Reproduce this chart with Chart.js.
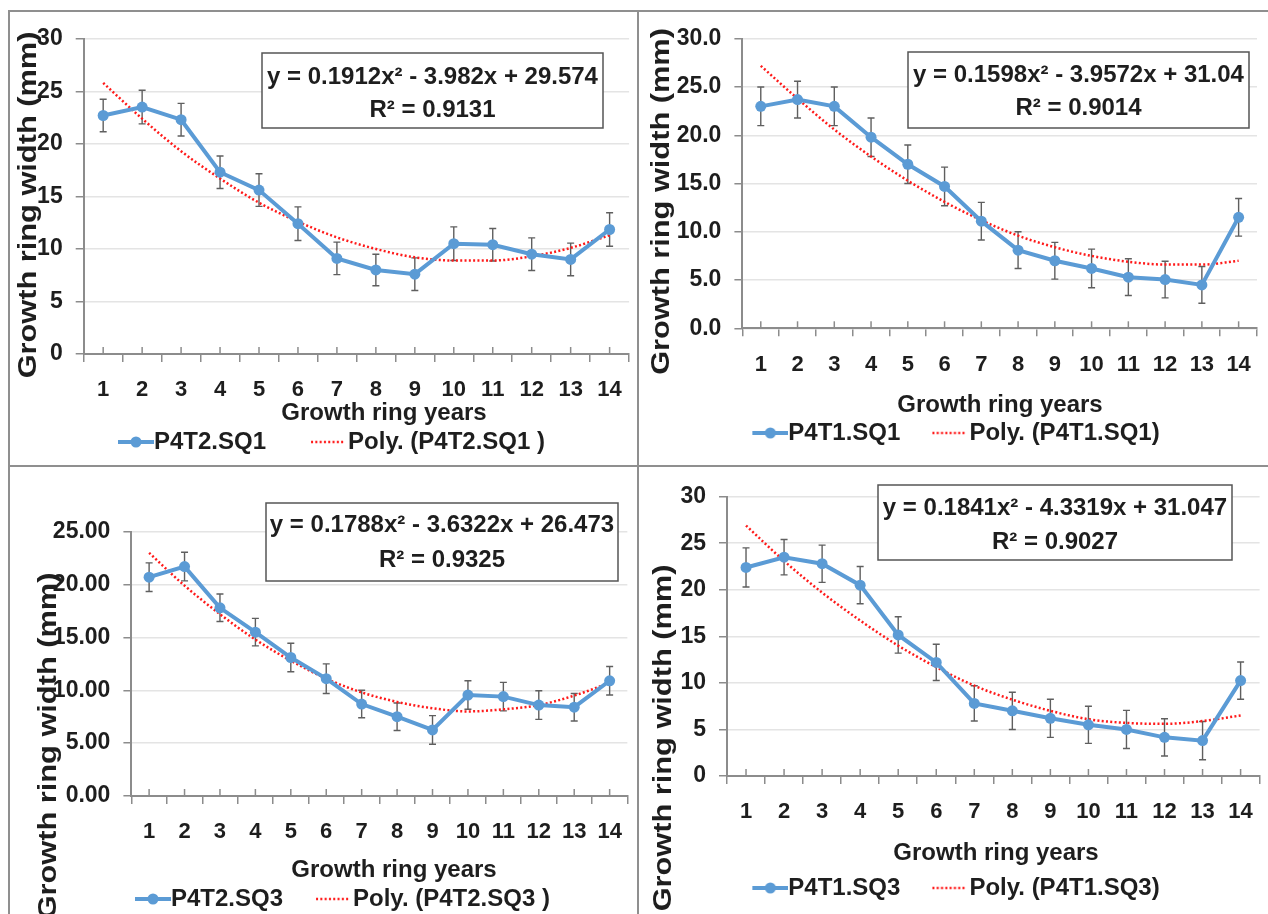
<!DOCTYPE html>
<html>
<head>
<meta charset="utf-8">
<script src="https://cdn.jsdelivr.net/npm/chart.js@4.4.1/dist/chart.umd.min.js"></script>
<style>
body { margin: 0; background: #fff; width: 1268px; height: 914px; overflow: hidden; position: relative; }
canvas { position: absolute; }
.ln { position: absolute; background: #8f8f8f; }
</style>
</head>
<body>
<canvas id="c1" width="627" height="460" style="left:10px;top:12px"></canvas>
<canvas id="c2" width="628" height="460" style="left:640px;top:12px"></canvas>
<canvas id="c3" width="627" height="460" style="left:10px;top:468px"></canvas>
<canvas id="c4" width="628" height="460" style="left:640px;top:468px"></canvas>
<div class="ln" style="left:8px;top:10px;width:1260px;height:2px"></div>
<div class="ln" style="left:8px;top:10px;width:2px;height:904px"></div>
<div class="ln" style="left:637px;top:10px;width:2px;height:904px"></div>
<div class="ln" style="left:8px;top:465px;width:1260px;height:2px"></div>
<script>
var years = ['1', '2', '3', '4', '5', '6', '7', '8', '9', '10', '11', '12', '13', '14']

// P4T2.SQ1
var p4t2sq1 = [22.7, 23.5, 22.3, 17.3, 15.6, 12.4, 9.1, 8.0, 7.6, 10.5, 10.4, 9.5, 9.0, 11.85]
var p4t2sq1Err = [1.55, 1.6, 1.55, 1.55, 1.55, 1.6, 1.55, 1.5, 1.55, 1.6, 1.55, 1.55, 1.55, 1.6]
var p4t2sq1Poly = [25.8, 22.4, 19.3, 16.7, 14.4, 12.6, 11.1, 10.0, 9.2, 8.9, 8.9, 9.3, 10.1, 11.3]

// P4T1.SQ1
var p4t1sq1 = [23.0, 23.7, 23.0, 19.8, 17.0, 14.7, 11.1, 8.1, 7.0, 6.2, 5.3, 5.05, 4.5, 11.5]
var p4t1sq1Err = [2.0, 1.9, 2.0, 2.0, 2.0, 2.0, 1.95, 1.9, 1.9, 2.0, 1.9, 1.9, 1.9, 1.95]
var p4t1sq1Poly = [27.2, 23.8, 20.6, 17.8, 15.3, 13.1, 11.2, 9.6, 8.4, 7.5, 6.9, 6.6, 6.6, 7.0]

// P4T2.SQ3
var p4t2sq3 = [20.7, 21.7, 17.8, 15.5, 13.1, 11.1, 8.7, 7.5, 6.25, 9.55, 9.4, 8.6, 8.4, 10.9]
var p4t2sq3Err = [1.35, 1.35, 1.3, 1.3, 1.35, 1.4, 1.3, 1.3, 1.35, 1.35, 1.35, 1.35, 1.3, 1.35]
var p4t2sq3Poly = [23.0, 19.9, 17.2, 14.8, 12.8, 11.1, 9.8, 8.9, 8.3, 8.0, 8.2, 8.6, 9.5, 10.7]

// P4T1.SQ3
var p4t1sq3 = [22.4, 23.5, 22.8, 20.5, 15.15, 12.2, 7.8, 7.0, 6.2, 5.5, 5.0, 4.15, 3.8, 10.25]
var p4t1sq3Err = [2.1, 1.9, 2.0, 2.0, 1.95, 1.95, 1.9, 2.0, 2.05, 2.0, 2.05, 2.0, 2.05, 2.0]
var p4t1sq3Poly = [26.9, 23.1, 19.7, 16.7, 14.0, 11.7, 9.7, 8.2, 7.0, 6.1, 5.7, 5.6, 5.9, 6.5]

var seriesNames = ['P4T2.SQ1', 'P4T1.SQ1', 'P4T2.SQ3', 'P4T1.SQ3']
var trendNames = ['Poly. (P4T2.SQ1 )', 'Poly. (P4T1.SQ1)', 'Poly. (P4T2.SQ3 )', 'Poly. (P4T1.SQ3)']
var equations = ['y = 0.1912x² - 3.982x + 29.574', 'y = 0.1598x² - 3.9572x + 31.04',
                 'y = 0.1788x² - 3.6322x + 26.473', 'y = 0.1841x² - 4.3319x + 31.047']
var rSquared = ['R² = 0.9131', 'R² = 0.9014', 'R² = 0.9325', 'R² = 0.9027']
var yMax = [30, 30, 25, 30]
var yDecimals = [0, 1, 2, 0]

var blue = '#5b9bd5'
var red = '#ff1a1a'
var txt = '#1e1e1e'
var axisGrey = '#8c8c8c'
var fam = '"Liberation Sans", Arial, sans-serif'

// legend icons (w = legend box width): line with marker, dotted trend line
function legendIcon(kind, w) {
    var c = document.createElement('canvas')
    c.width = w + 24
    c.height = 14
    var g = c.getContext('2d')
    if (kind == 'series') {
        g.strokeStyle = blue
        g.lineWidth = 4
        g.beginPath(); g.moveTo(w - 12, 7); g.lineTo(w + 24, 7); g.stroke()
        g.fillStyle = blue
        g.beginPath(); g.arc(w + 6, 7, 5.5, 0, Math.PI * 2); g.fill()
    } else {
        g.strokeStyle = red
        g.lineWidth = 2.5
        g.setLineDash([2, 2.3])
        g.beginPath(); g.moveTo(w - 13, 7); g.lineTo(w + 20, 7); g.stroke()
    }
    return c
}

// error bars, centre ticks, equation box and axis titles
var extras = {
    id: 'extras',
    beforeDatasetsDraw(chart, args, o) {
        var ctx = chart.ctx, x = chart.scales.x, y = chart.scales.y
        var mean = chart.data.datasets[0].data
        var bottom = chart.chartArea.bottom
        ctx.save()
        ctx.strokeStyle = axisGrey
        ctx.lineWidth = 1.5
        for (var i = 0; i < mean.length; i++) {
            var px = x.getPixelForValue(i)
            ctx.beginPath(); ctx.moveTo(px, bottom); ctx.lineTo(px, bottom - 7); ctx.stroke()
        }
        ctx.strokeStyle = '#5f5f5f'
        ctx.lineWidth = 1.4
        for (var i = 0; i < mean.length; i++) {
            var px = x.getPixelForValue(i)
            var top = y.getPixelForValue(mean[i] + o.errors[i])
            var bot = y.getPixelForValue(mean[i] - o.errors[i])
            ctx.beginPath()
            ctx.moveTo(px, top); ctx.lineTo(px, bot)
            ctx.moveTo(px - 3.5, top); ctx.lineTo(px + 3.5, top)
            ctx.moveTo(px - 3.5, bot); ctx.lineTo(px + 3.5, bot)
            ctx.stroke()
        }
        ctx.restore()
    },
    afterDraw(chart, args, o) {
        var ctx = chart.ctx
        var b = o.box
        ctx.save()
        ctx.fillStyle = '#fff'
        ctx.fillRect(b.left, b.top, b.width, b.height)
        ctx.strokeStyle = '#555'
        ctx.lineWidth = 1.5
        ctx.strokeRect(b.left, b.top, b.width, b.height)
        ctx.fillStyle = txt
        ctx.textAlign = 'center'
        ctx.textBaseline = 'middle'
        ctx.font = 'bold 24px ' + fam
        ctx.fillText(o.lines[0], b.left + b.width / 2, b.line1)
        ctx.fillText(o.lines[1], b.left + b.width / 2, b.line2)

        ctx.fillText('Growth ring years', o.xTitle.x, o.xTitle.y)

        ctx.translate(o.yTitle.x, o.yTitle.y)
        ctx.rotate(-Math.PI / 2)
        ctx.scale(1.23, 1)
        ctx.font = 'bold 25px ' + fam
        ctx.fillText('Growth ring width (mm)', 0, 0)
        ctx.restore()
    }
}

function plotarPainel(id, k, mean, err, poly, lay) {
    var icons = [legendIcon('series', lay.boxW), legendIcon('trend', lay.boxW)]
    new Chart(document.getElementById(id), {
        type: 'line',
        data: {
            labels: years,
            datasets: [{
                label: seriesNames[k],
                data: mean,
                borderColor: blue,
                backgroundColor: blue,
                borderWidth: 4,
                pointRadius: 5.5,
                pointBorderWidth: 0,
                tension: 0
            }, {
                label: trendNames[k],
                data: poly,
                borderColor: red,
                borderWidth: 2.5,
                borderDash: [2, 2.3],
                pointRadius: 0,
                cubicInterpolationMode: 'monotone'
            }]
        },
        options: {
            responsive: false,
            animation: false,
            events: [],
            layout: { padding: lay.pad, autoPadding: false },
            plugins: {
                tooltip: { enabled: false },
                legend: {
                    position: 'bottom',
                    labels: {
                        usePointStyle: true,
                        pointStyleWidth: lay.boxW,
                        padding: lay.legendGap,
                        color: txt,
                        font: { family: fam, size: 24, weight: 'bold' },
                        generateLabels: function (chart) {
                            return chart.data.datasets.map(function (d, i) {
                                return { text: d.label, pointStyle: icons[i], datasetIndex: i, lineWidth: 0, hidden: false, fontColor: txt }
                            })
                        }
                    }
                },
                extras: {
                    errors: err,
                    lines: [equations[k], rSquared[k]],
                    box: lay.box,
                    xTitle: lay.xTitle,
                    yTitle: lay.yTitle
                }
            },
            scales: {
                x: {
                    offset: true,
                    grid: { display: true, offset: true, drawOnChartArea: false, drawTicks: true, tickLength: 8, color: axisGrey, lineWidth: 1.5 },
                    border: { display: true, color: axisGrey, width: 2 },
                    ticks: { color: txt, padding: 15, maxRotation: 0, autoSkip: false, font: { family: fam, size: 22, weight: 'bold' } },
                    afterFit: function (s) { s.height = lay.xH }
                },
                y: {
                    min: 0,
                    max: yMax[k],
                    grid: { color: '#e4e4e4', lineWidth: 1.5, tickLength: 8, tickColor: axisGrey, tickWidth: 1.5 },
                    border: { display: true, color: axisGrey, width: 2 },
                    ticks: {
                        stepSize: 5,
                        padding: 13,
                        color: txt,
                        font: { family: fam, size: 23, weight: 'bold' },
                        callback: function (v) { return Number(v).toFixed(yDecimals[k]) }
                    },
                    afterFit: function (s) { s.width = lay.yW }
                }
            }
        },
        plugins: [extras]
    })
}

plotarPainel('c1', 0, p4t2sq1, p4t2sq1Err, p4t2sq1Poly, {
    pad: { left: 0.5, right: 4.5, top: 19.7, bottom: 8 }, yW: 73.2, xH: 50, legendGap: 26, boxW: 44,
    box: { left: 252, top: 41, width: 341, height: 75, line1: 65, line2: 98 },
    xTitle: { x: 374, y: 401 }, yTitle: { x: 19.4, y: 193 }
})
plotarPainel('c2', 1, p4t1sq1, p4t1sq1Err, p4t1sq1Poly, {
    pad: { left: 15, right: 11, top: 13.7, bottom: 17 }, yW: 87.4, xH: 59.7, legendGap: 33, boxW: 24,
    box: { left: 268, top: 40, width: 341, height: 76, line1: 63, line2: 96 },
    xTitle: { x: 360, y: 393 }, yTitle: { x: 22, y: 189.5 }
})
plotarPainel('c3', 2, p4t2sq3, p4t2sq3Err, p4t2sq3Poly, {
    pad: { left: 41.4, right: 3.5, top: 63.7, bottom: 7 }, yW: 80, xH: 57, legendGap: 34, boxW: 24,
    box: { left: 256, top: 35, width: 352, height: 78, line1: 57, line2: 92 },
    xTitle: { x: 384, y: 402 }, yTitle: { x: 39, y: 278 }
})
plotarPainel('c4', 3, p4t1sq3, p4t1sq3Err, p4t1sq3Poly, {
    pad: { left: 8.5, right: 4.5, top: 28.7, bottom: 18 }, yW: 78.5, xH: 67, legendGap: 33, boxW: 24,
    box: { left: 238, top: 17, width: 354, height: 75, line1: 40, line2: 74 },
    xTitle: { x: 356, y: 385 }, yTitle: { x: 24, y: 270 }
})
</script>
</body>
</html>
